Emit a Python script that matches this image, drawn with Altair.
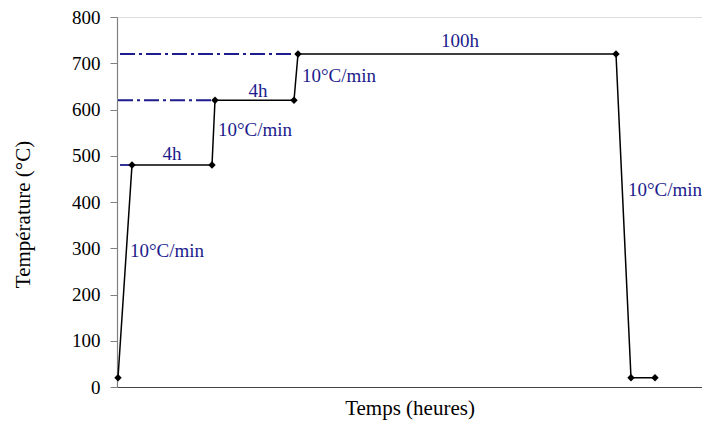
import altair as alt
import pandas as pd

# Temperature profile points (x in arbitrary time units, y in °C)
time_pts = [1, 15, 95, 98, 177, 181, 499, 514, 538]
temp_pts = [20, 480, 480, 620, 620, 720, 720, 20, 20]

# Dash-dot reference lines (level, start, end)
ref_levels = [480, 620, 720]
ref_start = [3, 1, 3]
ref_end = [15, 98, 181]

# Annotations
ann_text = ["10°C/min", "4h", "10°C/min", "4h", "10°C/min", "100h", "10°C/min"]
ann_x = [13, 55, 101, 141, 185, 343, 511]
ann_y = [294, 504, 556, 640, 672, 748, 426]
ann_align = ["left", "center", "left", "center", "left", "center", "left"]

FONT = "Liberation Serif"
NAVY = "#1c1c8c"

df = pd.DataFrame({"t": time_pts, "T": temp_pts})
ref = pd.DataFrame({"y": ref_levels, "x1": ref_start, "x2": ref_end})
ann = pd.DataFrame({"text": ann_text, "x": ann_x, "y": ann_y, "align": ann_align})

xscale = alt.Scale(domain=[0, 585], nice=False, zero=False)
yscale = alt.Scale(domain=[0, 800], nice=False)

xaxis = alt.Axis(title="Temps (heures)", ticks=False, labels=False, grid=False,
                 domainColor="#444444", domainWidth=1.2, titlePadding=10,
                 titleFont=FONT)
yaxis = alt.Axis(title="Température (°C)", values=list(range(0, 801, 100)), grid=False,
                 domainColor="#808080", tickColor="#808080", tickSize=7, domainWidth=1.2,
                 labelPadding=10, labelFont=FONT, labelFontSize=19, labelColor="#000000",
                 titleFont=FONT,
                 titleAngle=270, titleAlign="center", titleBaseline="middle",
                 titleX=-94, titleY=197)

line = alt.Chart(df).mark_line(color="#000000", strokeWidth=1.5).encode(
    x=alt.X("t:Q", scale=xscale, axis=xaxis),
    y=alt.Y("T:Q", scale=yscale, axis=yaxis),
)
pts = alt.Chart(df).mark_point(shape="diamond", filled=True, color="#000000", size=55, opacity=1).encode(
    x=alt.X("t:Q", scale=xscale, axis=xaxis),
    y=alt.Y("T:Q", scale=yscale, axis=yaxis),
)
rules = alt.Chart(ref).mark_rule(color=NAVY, strokeWidth=1.8, strokeDash=[15, 4, 3, 4]).encode(
    x=alt.X("x1:Q", scale=xscale, axis=xaxis),
    x2="x2:Q",
    y=alt.Y("y:Q", scale=yscale, axis=yaxis),
)

texts = []
for al in ["left", "center"]:
    texts.append(
        alt.Chart(ann[ann["align"] == al]).mark_text(
            align=al, baseline="middle", font=FONT, fontSize=19, color=NAVY
        ).encode(
            x=alt.X("x:Q", scale=xscale, axis=xaxis),
            y=alt.Y("y:Q", scale=yscale, axis=yaxis),
            text="text:N",
        )
    )

chart = alt.layer(rules, line, pts, *texts).properties(
    width=585, height=370,
    autosize=alt.AutoSizeParams(type="none"),
    padding={"left": 109, "top": 9, "right": 0, "bottom": 35},
).configure_view(stroke=None).configure(
    background="#ffffff", font=FONT,
    style={"guide-label": {"font": FONT}, "guide-title": {"font": FONT}},
).configure_axis(
    labelFont=FONT, labelFontSize=19, labelColor="#000000",
    titleFont=FONT, titleFontSize=21, titleFontWeight="normal", titleColor="#000000",
)

chart.save("out.html", embed_options={"renderer": "svg", "actions": False})
